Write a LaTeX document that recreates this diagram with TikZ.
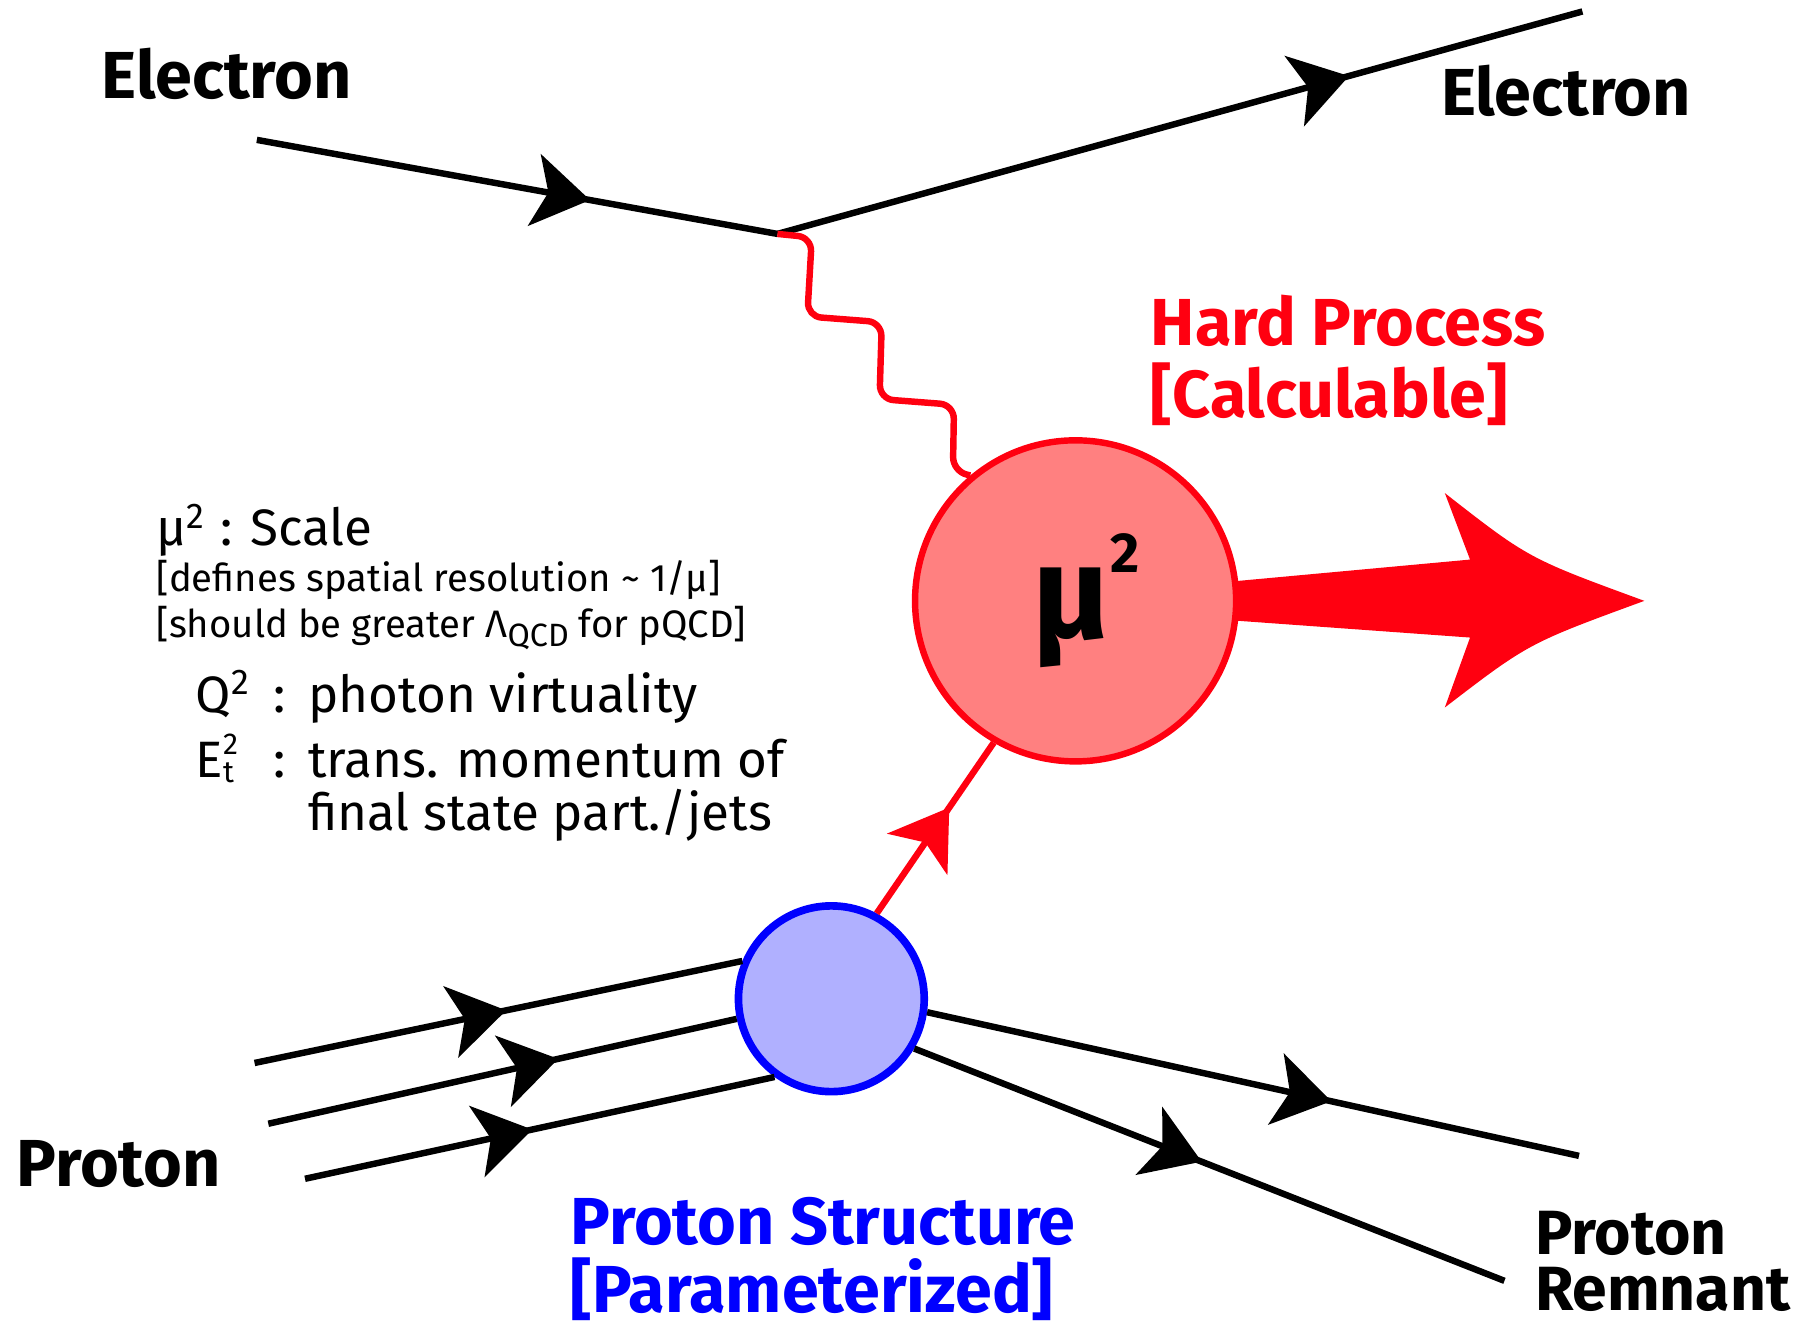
\documentclass[tikz,border=0pt]{standalone}
\usepackage{fontspec}
\setmainfont{Fira Sans}
\usepackage{tikz}
\usetikzlibrary{arrows.meta}
\usetikzlibrary{decorations.markings}
\usepackage{xcolor}

\definecolor{hardred}{RGB}{255,0,16}
\definecolor{hardfill}{RGB}{255,128,128}
\definecolor{pdfblue}{RGB}{0,0,255}
\definecolor{pdffill}{RGB}{176,176,255}

\begin{document}
\begin{tikzpicture}[x=0.1mm,y=-0.1mm,
		fermion/.style={line width=1.6pt,
			postaction={decorate,decoration={markings,
					mark=at position #1 with {\arrow{Stealth[length=14pt,width=18pt,inset=3.5pt]}}}}},
		biglbl/.style={anchor=base west,inner sep=0pt,font=\fontsize{16.5}{19}\selectfont\bfseries},
		txtlbl/.style={anchor=base west,inner sep=0pt,font=\fontsize{12.7}{15}\selectfont},
		notelbl/.style={anchor=base west,inner sep=0pt,font=\fontsize{9.5}{12}\selectfont}]
			
			\useasboundingbox (0,0) rectangle (1568,1157);
			
			% hard process and proton blob
			\node[circle,minimum size=2.8cm,draw=hardred,line width=1.6pt,fill=hardfill,inner sep=0pt]
				(mu) at (938,524) {\hspace*{0.18cm}\fontsize{33}{33}\selectfont\bfseries μ\raisebox{0.5em}{\fontsize{14}{14}\selectfont 2}};
			\node[circle,minimum size=1.62cm,draw=pdfblue,line width=1.9pt,fill=pdffill,inner sep=0pt]
				(blob) at (725,871) {};
			
			% electron lines
			\coordinate (ein) at (224,122);
			\coordinate (vtx) at (678,204);
			\coordinate (eout) at (1380,10);
			\draw[fermion=0.64] (ein) -- (vtx);
			\draw[fermion=0.71] (vtx) -- (eout);
			
			% exchanged photon
			\draw[hardred,line width=1.6pt,rounded corners=3.5pt] (vtx) -- (708,207) -- (704,276) -- (769,281)
				-- (767,348) -- (832,353) -- (831,411) -- (mu.130);
			
			% parton into hard process
			\draw[hardred,fermion=0.62] (blob.62) -- (mu.240);
			
			% outgoing jet
			\fill[hardred] (mu.7) -- (1282,488) -- (1260,430) .. controls (1333,487) .. (1434,524)
				.. controls (1333,561) .. (1260,617) -- (1282,556) -- (mu.-7) -- cycle;
			
			% proton in
			\coordinate (pin1) at (222,927);
			\coordinate (pin2) at (234,980);
			\coordinate (pin3) at (266,1028);
			\draw[fermion=0.516] (pin1) -- (blob.157);
			\draw[fermion=0.619] (pin2) -- (blob.192);
			\draw[fermion=0.484] (pin3) -- (blob.234);
			
			% proton remnant out
			\coordinate (pout1) at (1377,1008);
			\coordinate (pout2) at (1312,1117);
			\draw[fermion=0.62] (blob.-8) -- (pout1);
			\draw[fermion=0.487] (blob.-31) -- (pout2);
			
			% labels
			\node[biglbl] (elin) at (88,86) {Electron};
			\node[biglbl] (elout) at (1256,101) {Electron};
			\node[biglbl,text=hardred] (hard) at (1003,301) {Hard Process};
			\node[biglbl,text=hardred] (calc) at (1003,364) {[Calculable]};
			\node[biglbl] (prot) at (14,1035) {Proton};
			\node[biglbl,text=pdfblue] (pstruct) at (497,1085) {Proton Structure};
			\node[biglbl,text=pdfblue] (param) at (497,1145) {[Parameterized]};
			\node[biglbl,font=\fontsize{15.5}{18}\selectfont\bfseries] (remn) at (1338,1094) {Proton};
			\node[biglbl,font=\fontsize{15.5}{18}\selectfont\bfseries] (remnb) at (1338,1143) {Remnant};
			
			% scale notes
			\node[txtlbl] (scaletxt) at (136,476) {μ\textsuperscript{2} : Scale};
			\node[notelbl] (resol) at (136,516) {[defines spatial resolution \textasciitilde{} 1/μ]};
			\node[notelbl] (pqcd) at (136,556) {[should be greater Λ\raisebox{-0.45ex}{\fontsize{8}{8}\selectfont QCD} for pQCD]};
			\node[txtlbl] (qsym) at (170,621) {Q\textsuperscript{2}};
			\node[txtlbl] (qcol) at (238,621) {:};
			\node[txtlbl] (qtxt) at (268,621) {photon virtuality};
			\node[txtlbl] (esym) at (170,678) {E\rlap{\raisebox{5.6pt}{\fontsize{7.5}{8}\selectfont 2}}\raisebox{-1.2pt}{\fontsize{7.5}{8}\selectfont t}};
			\node[txtlbl] (ecol) at (238,678) {:};
			\node[txtlbl] (etxt) at (268,678) {trans. momentum of};
			\node[txtlbl] (ftxt) at (268,724) {final state part./jets};
			
		\end{tikzpicture}
\end{document}
